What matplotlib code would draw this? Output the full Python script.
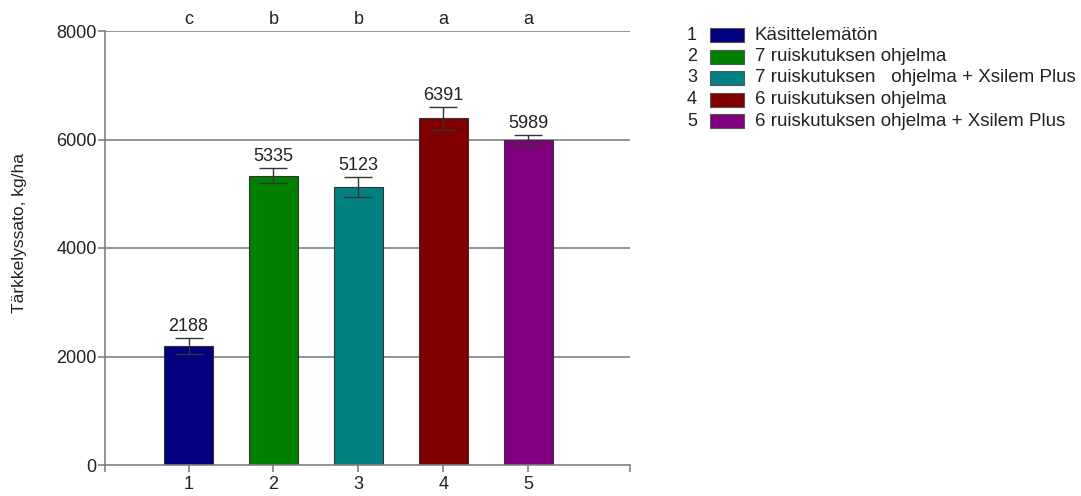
import numpy as np
import matplotlib
matplotlib.use("Agg")
import matplotlib.pyplot as plt
from matplotlib.patches import Rectangle

plt.rcParams['font.family'] = ['Liberation Sans', 'DejaVu Sans']

# data
groups = [1, 2, 3, 4, 5]
values = [2188, 5335, 5123, 6391, 5989]
errors = [150, 135, 185, 210, 100]
letters = ['c', 'b', 'b', 'a', 'a']
labels = ['Käsittelemätön',
          '7 ruiskutuksen ohjelma',
          '7 ruiskutuksen   ohjelma + Xsilem Plus',
          '6 ruiskutuksen ohjelma',
          '6 ruiskutuksen ohjelma + Xsilem Plus']
colors = ['#000080', '#008000', '#008080', '#800000', '#800080']
yticks = [0, 2000, 4000, 6000, 8000]

fs = 13
txt = '#222222'
grey = '#808080'

fig = plt.figure(figsize=(10.81, 4.96), dpi=100)
ax = fig.add_axes([105 / 1081, 31 / 496, 525 / 1081, 434 / 496])

for t in yticks[1:]:
    ax.axhline(t, color=grey, lw=1.2, zorder=0)

ax.bar(groups, values, width=0.58, color=colors, edgecolor='#333333', lw=0.8, zorder=2)
ax.errorbar(groups, values, yerr=errors, fmt='none', ecolor='#333333',
            elinewidth=1.0, capsize=10, capthick=1.0, zorder=3)

for x, v, e in zip(groups, values, errors):
    ax.annotate(str(v), (x, v + e), xytext=(0, 2), textcoords='offset points',
                ha='center', va='bottom', fontsize=fs, color=txt)
for x, l in zip(groups, letters):
    ax.annotate(l, (x, 8000), xytext=(0, 2), textcoords='offset points',
                ha='center', va='bottom', fontsize=fs, color=txt)

ax.set_xlim(0.015, 6.2)
ax.set_ylim(0, 8000)
ax.set_xticks([0.015] + groups + [6.2])
ax.set_xticklabels([''] + [str(g) for g in groups] + [''])
ax.set_yticks(yticks)
ax.tick_params(colors=grey, labelcolor=txt, labelsize=fs, length=5, width=1.2)
ax.tick_params(axis='y', pad=1)
ax.tick_params(axis='x', pad=3)
for s in ['top', 'right']:
    ax.spines[s].set_visible(False)
for s in ['left', 'bottom']:
    ax.spines[s].set_color(grey)
    ax.spines[s].set_linewidth(1.2)
ax.set_ylabel('Tärkkelyssato, kg/ha', fontsize=12.5, color=txt, va='center')
ax.yaxis.set_label_coords(-0.162, 0.535)

# legend drawn by hand: number, colour box, label
row_y = [35, 56.5, 78, 99.5, 121]
for i, (lab, col) in enumerate(zip(labels, colors)):
    y = 1 - row_y[i] / 496
    fig.text(692 / 1081, y, str(groups[i]), ha='center', va='center',
             fontsize=fs, color=txt)
    fig.add_artist(Rectangle((710 / 1081, y - 7 / 496), 34 / 1081, 14 / 496,
                             transform=fig.transFigure, facecolor=col,
                             edgecolor='#555555', lw=0.8))
    fig.text(755 / 1081, y, lab, ha='left', va='center', fontsize=13.5,
             color=txt)

fig.savefig('out.png', dpi=100)
